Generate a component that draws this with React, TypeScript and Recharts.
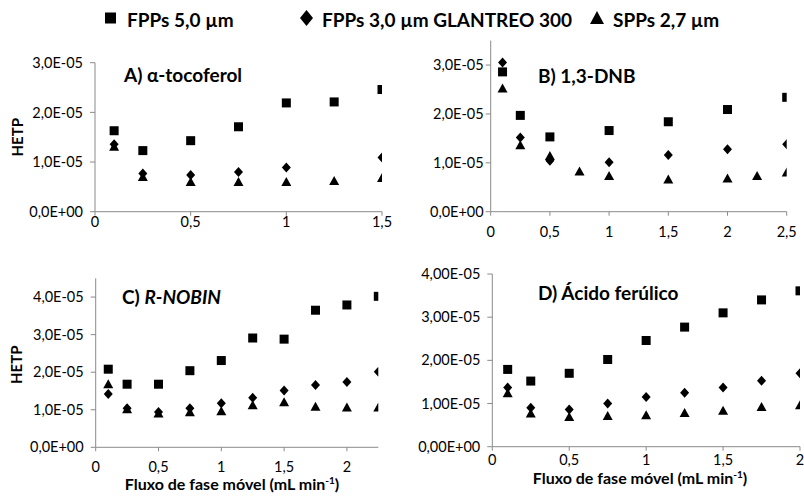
import React from "react";
import { ScatterChart, Scatter, XAxis, YAxis, Label } from "recharts";

// ---------- DATA ----------
// Panel A) α-tocoferol
const flowA = [0.1, 0.25, 0.5, 0.75, 1, 1.25, 1.5];
const fpp5A = [1.63e-5, 1.23e-5, 1.43e-5, 1.71e-5, 2.19e-5, 2.21e-5, 2.46e-5];
const flowA3 = [0.1, 0.25, 0.5, 0.75, 1, 1.5];
const fpp3A = [1.36e-5, 0.77e-5, 0.74e-5, 0.8e-5, 0.89e-5, 1.09e-5];
const sppA = [1.31e-5, 0.7e-5, 0.6e-5, 0.6e-5, 0.6e-5, 0.62e-5, 0.68e-5];

// Panel B) 1,3-DNB
const flowB = [0.1, 0.25, 0.5, 1, 1.5, 2, 2.5];
const fpp5B = [2.86e-5, 1.97e-5, 1.53e-5, 1.66e-5, 1.84e-5, 2.09e-5, 2.34e-5];
const fpp3B = [3.05e-5, 1.52e-5, 1.04e-5, 1.01e-5, 1.16e-5, 1.28e-5, 1.38e-5];
const flowBs = [0.1, 0.25, 0.5, 0.75, 1, 1.5, 2, 2.25, 2.5];
const sppB = [2.52e-5, 1.36e-5, 1.14e-5, 0.82e-5, 0.73e-5, 0.66e-5, 0.68e-5, 0.73e-5, 0.8e-5];

// Panel C) R-NOBIN
const flowC = [0.1, 0.25, 0.5, 0.75, 1, 1.25, 1.5, 1.75, 2, 2.25];
const fpp5C = [2.08e-5, 1.68e-5, 1.68e-5, 2.04e-5, 2.31e-5, 2.91e-5, 2.88e-5, 3.65e-5, 3.79e-5, 4.02e-5];
const fpp3C = [1.42e-5, 1.04e-5, 0.94e-5, 1.04e-5, 1.17e-5, 1.32e-5, 1.51e-5, 1.66e-5, 1.74e-5, 2.01e-5];
const sppC = [1.68e-5, 1.01e-5, 0.9e-5, 0.93e-5, 0.96e-5, 1.12e-5, 1.2e-5, 1.08e-5, 1.06e-5, 1.06e-5];

// Panel D) Ácido ferúlico
const flowD = [0.1, 0.25, 0.5, 0.75, 1, 1.25, 1.5, 1.75, 2];
const fpp5D = [1.79e-5, 1.52e-5, 1.7e-5, 2.02e-5, 2.46e-5, 2.77e-5, 3.1e-5, 3.4e-5, 3.61e-5];
const fpp3D = [1.37e-5, 0.9e-5, 0.86e-5, 1.0e-5, 1.15e-5, 1.25e-5, 1.37e-5, 1.53e-5, 1.7e-5];
const sppD = [1.24e-5, 0.77e-5, 0.69e-5, 0.71e-5, 0.73e-5, 0.78e-5, 0.83e-5, 0.92e-5, 0.96e-5];

// Ticks
const xTicksA = [0, 0.5, 1, 1.5];
const xTicksB = [0, 0.5, 1, 1.5, 2, 2.5];
const xTicksC = [0, 0.5, 1, 1.5, 2];
const xTicksD = [0, 0.5, 1, 1.5, 2];
const yTicks3 = [0, 1e-5, 2e-5, 3e-5];
const yTicks4 = [0, 1e-5, 2e-5, 3e-5, 4e-5];

const legendLabels = ["FPPs 5,0 µm", "FPPs 3,0 µm GLANTREO 300", "SPPs 2,7 µm"];
const titles = ["A) α-tocoferol", "B) 1,3-DNB", "C) ", "D) Ácido ferúlico"];
const titleItalicC = "R-NOBIN";
const yTitle = "HETP";
const xTitle = "Fluxo de fase móvel (mL min";

// ---------- HELPERS ----------
const zip = (xs: number[], ys: number[]) => xs.map((x, i) => ({ x, y: ys[i] }));

const fmtSci = (d: number) => (v: number) => {
  if (Math.abs(v) < 1e-12) return (0).toFixed(d).replace(".", ",") + "E+00";
  const [m, e] = v.toExponential(d).split("e");
  const n = parseInt(e, 10);
  return m.replace(".", ",") + "E" + (n < 0 ? "-" : "+") + String(Math.abs(n)).padStart(2, "0");
};
const fmtX = (v: number) => String(v).replace(".", ",");

const FONT = "Lato, 'Open Sans', sans-serif";
const AXIS = "#8a8a8a";
const TICK_FS = 14.5;

const Square = (p: any) => <rect x={p.cx - 4.5} y={p.cy - 4.5} width={9} height={9} fill="#000" />;
const Diamond = (p: any) => (
  <polygon points={`${p.cx},${p.cy - 5} ${p.cx + 4.5},${p.cy} ${p.cx},${p.cy + 5} ${p.cx - 4.5},${p.cy}`} fill="#000" />
);
const Triangle = (p: any) => (
  <polygon points={`${p.cx},${p.cy - 5} ${p.cx + 5},${p.cy + 4} ${p.cx - 5},${p.cy + 4}`} fill="#000" />
);

const YTitle = (dx: number, dy: number) => (props: any) => {
  const vb = props.viewBox || { x: 0, y: 0, width: 0, height: 0 };
  const x = vb.x + dx;
  const y = vb.y + vb.height / 2 + dy;
  return (
    <text
      x={x}
      y={y}
      transform={`rotate(-90 ${x} ${y})`}
      textAnchor="middle"
      dominantBaseline="central"
      fontFamily={FONT}
      fontWeight={700}
      fontSize={15}
      fill="#000"
    >
      {yTitle}
    </text>
  );
};

type PanelProps = {
  left: number;
  top: number;
  width: number;
  height: number;
  margin: { top: number; right: number; bottom: number; left: number };
  yWidth: number;
  xHeight: number;
  xMax: number;
  yMax: number;
  xTicks: number[];
  yTicks: number[];
  yDigits: number;
  yTickMargin: number;
  xTickMargin: number;
  s5: { x: number; y: number }[];
  s3: { x: number; y: number }[];
  sp: { x: number; y: number }[];
  yLabel?: any;
};

const Panel = (p: PanelProps) => (
  <div style={{ position: "absolute", left: p.left, top: p.top }}>
    <ScatterChart width={p.width} height={p.height} margin={p.margin}>
      <XAxis
        type="number"
        dataKey="x"
        domain={[0, p.xMax]}
        ticks={p.xTicks}
        interval={0}
        tickFormatter={fmtX}
        height={p.xHeight}
        axisLine={{ stroke: AXIS }}
        tickLine={{ stroke: AXIS }}
        tickSize={4}
        tickMargin={p.xTickMargin}
        tick={{ fontFamily: FONT, fontSize: TICK_FS, fill: "#000" }}
        allowDataOverflow
      />
      <YAxis
        type="number"
        dataKey="y"
        domain={[0, p.yMax]}
        ticks={p.yTicks}
        interval={0}
        tickFormatter={fmtSci(p.yDigits)}
        width={p.yWidth}
        axisLine={{ stroke: AXIS }}
        tickLine={{ stroke: AXIS }}
        tickSize={5}
        tickMargin={p.yTickMargin}
        tick={{ fontFamily: FONT, fontSize: TICK_FS, fill: "#000" }}
        allowDataOverflow
      >
        {p.yLabel ? <Label content={p.yLabel} /> : null}
      </YAxis>
      <Scatter data={p.s5} shape={Square} isAnimationActive={false} />
      <Scatter data={p.s3} shape={Diamond} isAnimationActive={false} />
      <Scatter data={p.sp} shape={Triangle} isAnimationActive={false} />
    </ScatterChart>
  </div>
);

export default function App() {
  const titleStyle = { fontFamily: FONT, fontWeight: 700, fontSize: 19, fill: "#000" } as any;
  const xTitleStyle = { fontFamily: FONT, fontWeight: 700, fontSize: 16, fill: "#000" } as any;
  return (
    <div style={{ position: "absolute", left: 0, top: 0, width: 804, height: 500, background: "#fff", overflow: "hidden" }}>
      <Panel
        left={0}
        top={40}
        width={400}
        height={210}
        margin={{ top: 22.7, right: 18, bottom: 8.3, left: 0 }}
        yWidth={95}
        xHeight={30}
        xMax={1.5}
        yMax={3e-5}
        xTicks={xTicksA}
        yTicks={yTicks3}
        yDigits={1}
        yTickMargin={7}
        xTickMargin={1}
        s5={zip(flowA, fpp5A)}
        s3={zip(flowA3, fpp3A)}
        sp={zip(flowA, sppA)}
        yLabel={YTitle(17, 0)}
      />
      <Panel
        left={400}
        top={30}
        width={404}
        height={220}
        margin={{ top: 10.6, right: 17.3, bottom: 8.3, left: 0 }}
        yWidth={90.7}
        xHeight={30}
        xMax={2.5}
        yMax={3.5e-5}
        xTicks={xTicksB}
        yTicks={yTicks3}
        yDigits={1}
        yTickMargin={2}
        xTickMargin={11.5}
        s5={zip(flowB, fpp5B)}
        s3={zip(flowB, fpp3B)}
        sp={zip(flowBs, sppB)}
      />
      <Panel
        left={0}
        top={250}
        width={400}
        height={250}
        margin={{ top: 28.3, right: 21.7, bottom: 0, left: 0 }}
        yWidth={95.7}
        xHeight={52.7}
        xMax={2.25}
        yMax={4.5e-5}
        xTicks={xTicksC}
        yTicks={yTicks4}
        yDigits={1}
        yTickMargin={7}
        xTickMargin={10.5}
        s5={zip(flowC, fpp5C)}
        s3={zip(flowC, fpp3C)}
        sp={zip(flowC, sppC)}
        yLabel={YTitle(16, 2)}
      />
      <Panel
        left={400}
        top={250}
        width={404}
        height={250}
        margin={{ top: 24, right: 4, bottom: 0, left: 0 }}
        yWidth={92.3}
        xHeight={53.3}
        xMax={2}
        yMax={4e-5}
        xTicks={xTicksD}
        yTicks={yTicks4}
        yDigits={2}
        yTickMargin={7}
        xTickMargin={4}
        s5={zip(flowD, fpp5D)}
        s3={zip(flowD, fpp3D)}
        sp={zip(flowD, sppD)}
      />
      <svg
        width={804}
        height={500}
        style={{ position: "absolute", left: 0, top: 0, pointerEvents: "none" }}
      >
        {/* Legend */}
        <rect x={105} y={12.5} width={11} height={11} fill="#000" />
        <text x={127} y={26.5} style={titleStyle}>{legendLabels[0]}</text>
        <polygon points="306.5,10 313,18 306.5,26 300,18" fill="#000" />
        <text x={322} y={26.5} style={titleStyle}>{legendLabels[1]}</text>
        <polygon points="597,11 604,24 590,24" fill="#000" />
        <text x={613} y={26.5} style={titleStyle}>{legendLabels[2]}</text>
        {/* Panel titles */}
        <text x={124} y={81.7} style={titleStyle}>{titles[0]}</text>
        <text x={538} y={82.7} style={titleStyle}>{titles[1]}</text>
        <text x={122} y={304.3} style={titleStyle}>
          {titles[2]}
          <tspan fontStyle="italic">{titleItalicC}</tspan>
        </text>
        <text x={538} y={300} style={titleStyle}>{titles[3]}</text>
        {/* X axis titles */}
        <text x={232} y={490} textAnchor="middle" style={xTitleStyle}>
          {xTitle}
          <tspan dy={-6} fontSize={10}>-1</tspan>
          <tspan dy={6}>)</tspan>
        </text>
        <text x={640} y={484} textAnchor="middle" style={xTitleStyle}>
          {xTitle}
          <tspan dy={-6} fontSize={10}>-1</tspan>
          <tspan dy={6}>)</tspan>
        </text>
      </svg>
    </div>
  );
}
